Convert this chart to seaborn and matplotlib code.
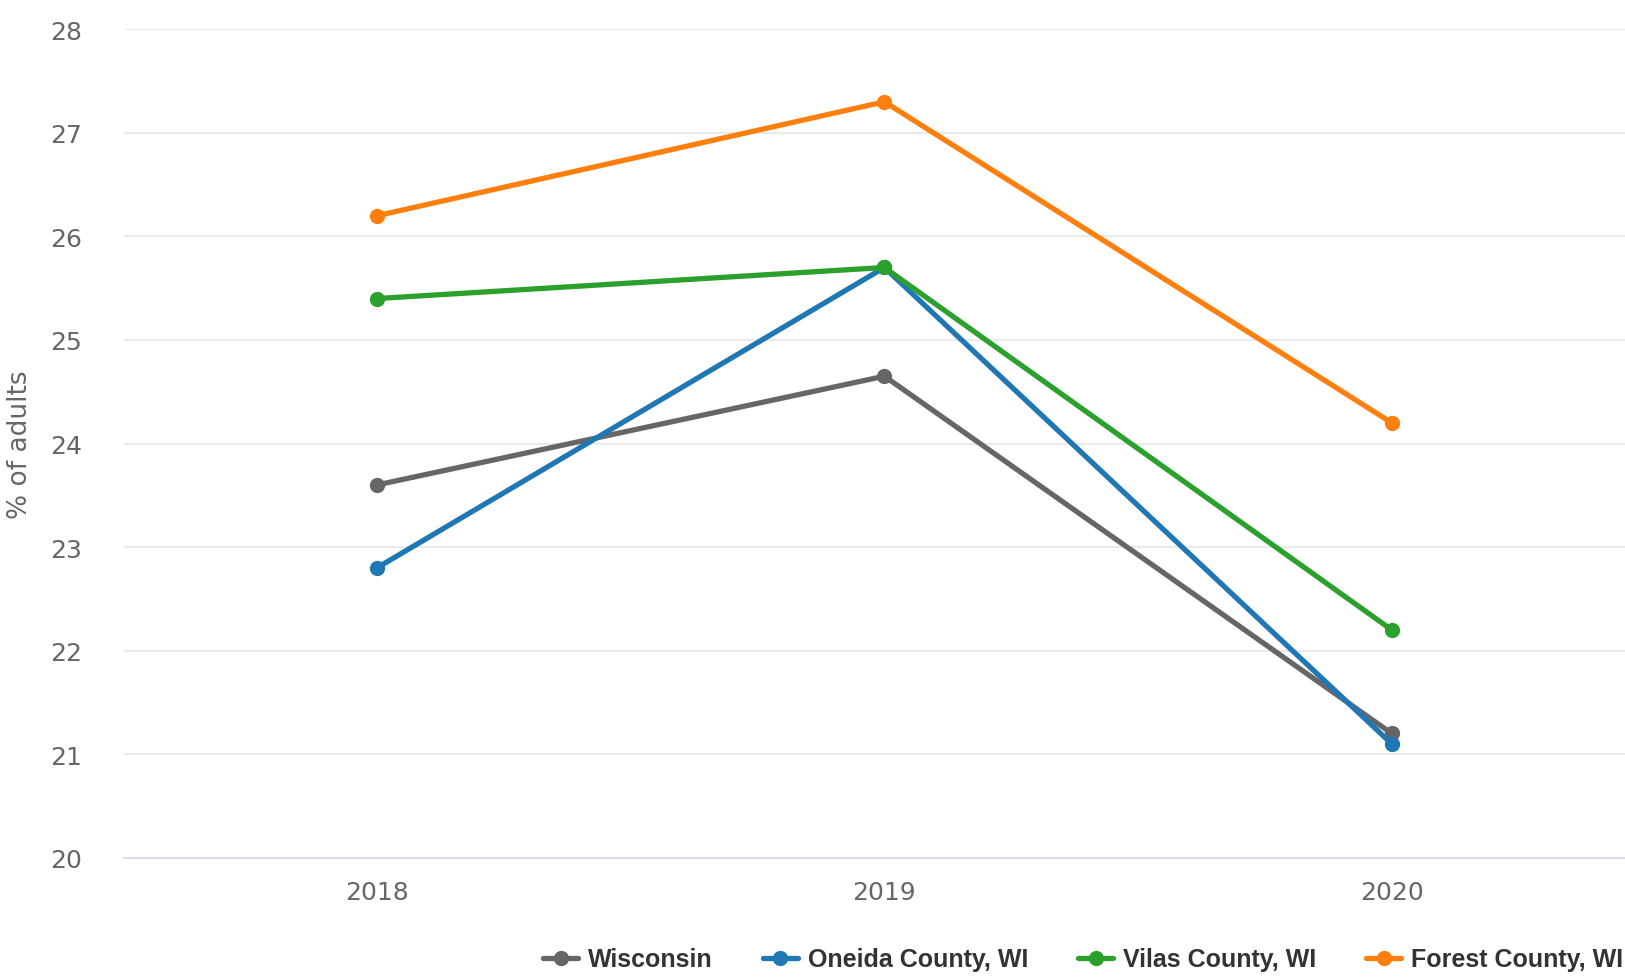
import pandas as pd
import matplotlib.pyplot as plt
import seaborn as sns

# Data
years = ["2018", "2019", "2020"]
series_names = ["Wisconsin", "Oneida County, WI", "Vilas County, WI", "Forest County, WI"]
wisconsin = [23.6, 24.65, 21.2]
oneida = [22.8, 25.7, 21.1]
vilas = [25.4, 25.7, 22.2]
forest = [26.2, 27.3, 24.2]
colors = ["#666666", "#1f77b4", "#2ca02c", "#ff7f0e"]

rows = []
for name, vals in zip(series_names, [wisconsin, oneida, vilas, forest]):
    for yr, v in zip(years, vals):
        rows.append({"year": yr, "value": v, "series": name})
df = pd.DataFrame(rows)

sns.set_style("white")
plt.rcParams['font.family'] = ['DejaVu Sans']

fig = plt.figure(figsize=(16.25, 9.78), dpi=100)
ax = fig.add_axes([0.076, 0.122, 0.924, 0.847])

sns.lineplot(data=df, x="year", y="value", hue="series", hue_order=series_names,
             palette=colors, marker="o", markersize=11, markeredgewidth=0,
             linewidth=3.8, ax=ax, legend=True)

ax.set_ylim(20, 28)
ax.set_yticks(range(20, 29))
ax.set_xlim(-0.5, 2.46)
ax.grid(axis="y", color="#e6e6e6", linewidth=1.2)
ax.set_axisbelow(True)
for s in ["top", "right", "left"]:
    ax.spines[s].set_visible(False)
ax.spines["bottom"].set_color("#ccd6eb")
ax.spines["bottom"].set_linewidth(1.2)
ax.tick_params(axis="both", length=0, labelsize=18, labelcolor="#666666")
ax.tick_params(axis="y", pad=30)
ax.tick_params(axis="x", pad=16)
ax.set_xlabel("")
ax.set_ylabel("% of adults", fontsize=19, color="#666666", labelpad=12)

handles, labels = ax.get_legend_handles_labels()
ax.get_legend().remove()
fig.legend(handles, labels, loc="center right", bbox_to_anchor=(0.999, 0.018), ncol=4,
           frameon=False, borderpad=0, borderaxespad=0,
           prop={"family": ["Liberation Sans", "DejaVu Sans"], "weight": "bold", "size": 18},
           labelcolor="#333333",
           handlelength=1.4, handletextpad=0.4, columnspacing=2.0)

fig.savefig("out.png", dpi=100)
